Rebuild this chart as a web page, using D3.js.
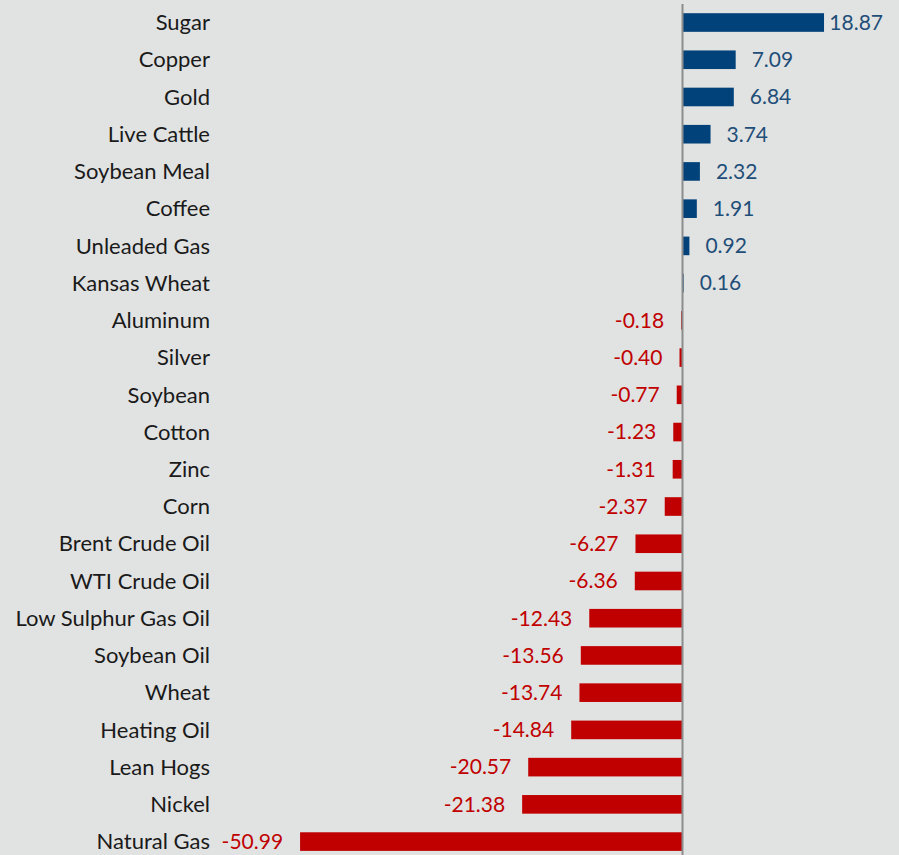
<!DOCTYPE html>
<html>
<head>
<meta charset="utf-8">
<script src="https://cdn.jsdelivr.net/npm/d3@7/dist/d3.min.js"></script>
<style>
  html, body { margin: 0; padding: 0; background: #e1e3e2; }
  svg { display: block; }
  text { font-family: Lato, "Open Sans", sans-serif; }
</style>
</head>
<body>
<svg id="chart" width="899" height="855"></svg>
<script>
// Commodity returns (%), sorted from best to worst
const commodities = [
  "Sugar", "Copper", "Gold", "Live Cattle", "Soybean Meal", "Coffee",
  "Unleaded Gas", "Kansas Wheat", "Aluminum", "Silver", "Soybean", "Cotton",
  "Zinc", "Corn", "Brent Crude Oil", "WTI Crude Oil", "Low Sulphur Gas Oil",
  "Soybean Oil", "Wheat", "Heating Oil", "Lean Hogs", "Nickel", "Natural Gas"
];
const returns = [
  18.87, 7.09, 6.84, 3.74, 2.32, 1.91,
  0.92, 0.16, -0.18, -0.40, -0.77, -1.23,
  -1.31, -2.37, -6.27, -6.36, -12.43,
  -13.56, -13.74, -14.84, -20.57, -21.38, -50.99
];

const data = commodities.map((name, i) => ({ name, value: returns[i] }));

const width = 899, height = 855;
const svg = d3.select("#chart");

const x = d3.scaleLinear().domain([-51, 19]).range([300, 825]);
const y = d3.scaleBand()
  .domain(commodities)
  .range([3.9, 860.2])
  .paddingInner(0.5)
  .paddingOuter(0.25);

const posColor = "#02427a";
const negColor = "#c00000";

// Bars
svg.append("g")
  .selectAll("rect")
  .data(data)
  .join("rect")
  .attr("x", d => x(Math.min(0, d.value)))
  .attr("y", d => y(d.name))
  .attr("width", d => Math.abs(x(d.value) - x(0)))
  .attr("height", y.bandwidth())
  .attr("fill", d => d.value >= 0 ? posColor : negColor);

// Zero axis line
svg.append("line")
  .attr("x1", x(0)).attr("x2", x(0))
  .attr("y1", 4).attr("y2", height)
  .attr("stroke", "#8c8c8c")
  .attr("stroke-width", 2);

// Category labels
const yAxis = d3.axisLeft(y).tickSize(0).tickPadding(0);
const gAxis = svg.append("g")
  .attr("transform", "translate(210,0)")
  .call(yAxis);
gAxis.select(".domain").remove();
gAxis.selectAll("text")
  .attr("font-size", 22)
  .attr("fill", "#1a1a1a")
  .attr("font-family", "Lato, 'Open Sans', sans-serif")
  .attr("dy", "0.35em");

// Value labels (plain hyphen for negatives)
const rightLimit = 883;
svg.append("g")
  .selectAll("text")
  .data(data)
  .join("text")
  .attr("y", d => y(d.name) + y.bandwidth() / 2)
  .attr("dy", "0.35em")
  .attr("font-size", 21)
  .attr("fill", d => d.value >= 0 ? "#1f4e79" : negColor)
  .text(d => d.value.toFixed(2))
  .each(function (d) {
    const t = d3.select(this);
    if (d.value >= 0) {
      const w = this.getComputedTextLength();
      let sx = x(d.value) + 16;
      if (sx + w > rightLimit) sx = rightLimit - w;
      t.attr("x", sx).attr("text-anchor", "start");
    } else {
      t.attr("x", x(d.value) - 17).attr("text-anchor", "end");
    }
  });
</script>
</body>
</html>
